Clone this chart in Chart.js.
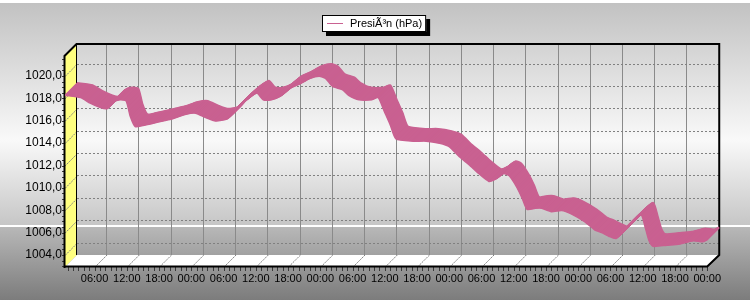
<!DOCTYPE html>
<html>
<head>
<meta charset="utf-8">
<script src="https://cdn.jsdelivr.net/npm/chart.js@4/dist/chart.umd.min.js"></script>
<style>
html,body{margin:0;padding:0;background:#fff;}
#wrap{width:750px;height:300px;}
</style>
</head>
<body>
<div id="wrap"><canvas id="c" width="750" height="300"></canvas></div>
<script>
// ---------- data ----------
const seriesLabel = 'PresiÃ³n (hPa)';
// hours since midnight of the first day
const hours = [0.5,3.4,5.2,7.1,8.3,9.5,10.7,11.9,12.7,13.6,15.0,16.9,18.7,20.5,23.0,24.8,26.7,28.5,30.7,32.5,
  34.3,36.2,37.4,38.9,40.5,42.3,44.1,46.0,47.8,49.0,50.3,52.1,53.3,55.2,57.6,58.8,60.0,61.1,62.1,65.3,
  67.7,70.2,72.0,73.9,75.7,77.5,79.4,80.6,82.1,83.2,84.7,85.6,86.5,88.0,89.2,91.0,92.9,94.7,97.2,99.0,
  100.5,101.7,103.0,105.1,107.7,108.6,109.2,109.9,112.5,114.9,117.4,119.2,120.0];
const pressure = [1018.3,1018.1,1017.6,1017.2,1017.1,1017.7,1017.9,1017.8,1016.4,1015.5,1015.6,1015.8,1016.0,1016.2,1016.6,1016.7,1016.3,1016.0,1016.2,1017.1,
  1017.9,1018.5,1017.9,1017.9,1018.2,1018.9,1019.3,1019.8,1020.0,1019.8,1019.1,1018.8,1018.3,1017.9,1017.9,1018.1,1016.8,1015.6,1014.4,1014.2,
  1014.2,1014.0,1013.7,1012.8,1012.1,1011.3,1010.6,1010.8,1011.3,1011.1,1010.0,1009.1,1008.1,1008.2,1008.2,1007.9,1008.0,1007.7,1007.0,1006.3,
  1006.0,1005.7,1005.5,1006.5,1007.6,1006.3,1005.3,1004.8,1004.9,1005.0,1005.3,1005.2,1005.4];
const xTickValues = [6,12,18,24,30,36,42,48,54,60,66,72,78,84,90,96,102,108,114,120];
const xTickLabels = ['06:00','12:00','18:00','00:00','06:00','12:00','18:00','00:00','06:00','12:00',
  '18:00','00:00','06:00','12:00','18:00','00:00','06:00','12:00','18:00','00:00'];
const yTickValues = [1004,1006,1008,1010,1012,1014,1016,1018,1020];

// ---------- styling constants ----------
const DEPTH = 12;
const PINK = 'rgb(201,97,145)';
const FONT = '"Liberation Sans", Arial, sans-serif';

const scene = {
  id: 'scene',
  beforeDraw(chart) {
    const ctx = chart.ctx, W = chart.width, H = chart.height;
    const a = chart.chartArea;
    ctx.save();
    ctx.fillStyle = '#ffffff';
    ctx.fillRect(0, 0, W, H);
    let g = ctx.createLinearGradient(0, 3, 0, 225);
    g.addColorStop(0, '#c2c2c2');
    g.addColorStop(0.62, '#f9f9f9');
    g.addColorStop(1, '#c6c6c6');
    ctx.fillStyle = g;
    ctx.fillRect(0, 3, W, 222);
    g = ctx.createLinearGradient(0, 227, 0, H);
    g.addColorStop(0, '#b8b8b8');
    g.addColorStop(1, '#7c7c7c');
    ctx.fillStyle = g;
    ctx.fillRect(0, 227, W, H - 227);

    // left wall
    ctx.fillStyle = '#ffff80';
    ctx.beginPath();
    ctx.moveTo(a.left - DEPTH, a.top + DEPTH);
    ctx.lineTo(a.left, a.top);
    ctx.lineTo(a.left, a.bottom);
    ctx.lineTo(a.left - DEPTH, a.bottom + DEPTH);
    ctx.closePath();
    ctx.fill();
    // floor
    ctx.fillStyle = '#ffffff';
    ctx.beginPath();
    ctx.moveTo(a.left - DEPTH, a.bottom + DEPTH);
    ctx.lineTo(a.left, a.bottom);
    ctx.lineTo(a.right, a.bottom);
    ctx.lineTo(a.right - DEPTH, a.bottom + DEPTH);
    ctx.closePath();
    ctx.fill();

    // slanted grid lines on wall and floor
    const xs = chart.scales.x, ys = chart.scales.y;
    ctx.strokeStyle = '#808080';
    ctx.lineWidth = 1;
    ctx.setLineDash([2, 1]);
    ctx.beginPath();
    ys.ticks.forEach(t => {
      const p = ys.getPixelForValue(t.value);
      ctx.moveTo(a.left, p + 0.5);
      ctx.lineTo(a.left - DEPTH, p + DEPTH + 0.5);
    });
    xs.ticks.forEach(t => {
      const p = xs.getPixelForValue(t.value);
      ctx.moveTo(p + 0.5, a.bottom);
      ctx.lineTo(p - DEPTH + 0.5, a.bottom + DEPTH);
    });
    ctx.stroke();
    ctx.restore();
  },
  beforeDatasetsDraw(chart) {
    const ctx = chart.ctx, a = chart.chartArea;
    const xs = chart.scales.x, ys = chart.scales.y;
    ctx.save();
    // tick marks on the front edges
    ctx.strokeStyle = '#3a3a3a';
    ctx.lineWidth = 1;
    ctx.beginPath();
    for (let v = Math.ceil(ys.min * 2) / 2; v <= ys.max; v += 0.5) {
      const p = Math.round(ys.getPixelForValue(v) + DEPTH) + 0.5;
      if (p > a.bottom + DEPTH || p < a.top + DEPTH) continue;
      ctx.moveTo(a.left - DEPTH - 3, p);
      ctx.lineTo(a.left - DEPTH, p);
    }
    for (let h = Math.ceil(xs.min); h <= xs.max; h += 1) {
      const p = Math.round(xs.getPixelForValue(h) - DEPTH) + 0.5;
      ctx.moveTo(p, a.bottom + DEPTH);
      ctx.lineTo(p, a.bottom + DEPTH + 4);
    }
    ctx.stroke();

    // black edges
    ctx.strokeStyle = '#000';
    ctx.lineWidth = 2;
    ctx.beginPath();
    ctx.moveTo(a.left - DEPTH - 0.5, a.bottom + DEPTH + 1);
    ctx.lineTo(a.left - DEPTH - 0.5, a.top + DEPTH);
    ctx.lineTo(a.left - 0.5, a.top);
    ctx.lineTo(a.right, a.top);
    ctx.lineTo(a.right, a.bottom);
    ctx.lineTo(a.right - DEPTH, a.bottom + DEPTH - 0.5);
    ctx.lineTo(a.left - DEPTH - 1.5, a.bottom + DEPTH - 0.5);
    ctx.stroke();
    ctx.lineWidth = 1;
    ctx.beginPath();
    ctx.moveTo(a.left - 0.5, a.top);
    ctx.lineTo(a.left - 0.5, a.bottom);
    ctx.stroke();
    ctx.restore();
  },
  beforeDatasetDraw(chart, args) {
    const ctx = chart.ctx, line = args.meta.dataset;
    for (let d = DEPTH; d > 0; d -= 0.5) {
      ctx.save();
      ctx.translate(-d, d);
      line.draw(ctx, chart.chartArea);
      ctx.restore();
    }
  },
  afterDraw(chart) {
    const ctx = chart.ctx;
    const label = chart.data.datasets[0].label;
    ctx.save();
    ctx.font = '11px ' + FONT;
    const tw = ctx.measureText(label).width;
    const w = 28 + tw + 4, h = 17;
    const left = Math.round(374 - w / 2), top = 15;
    ctx.fillStyle = '#000';
    ctx.fillRect(left + 4, top + 4, w, h);
    ctx.fillStyle = '#fff';
    ctx.fillRect(left, top, w, h);
    ctx.strokeStyle = '#000';
    ctx.lineWidth = 1;
    ctx.strokeRect(left + 0.5, top + 0.5, w - 1, h - 1);
    ctx.strokeStyle = chart.data.datasets[0].borderColor;
    ctx.beginPath();
    ctx.moveTo(left + 5, top + 8.5);
    ctx.lineTo(left + 21, top + 8.5);
    ctx.stroke();
    ctx.fillStyle = '#000';
    ctx.textBaseline = 'alphabetic';
    ctx.fillText(label, left + 28, top + 12);
    ctx.restore();
  }
};

new Chart(document.getElementById('c'), {
  type: 'line',
  data: {
    datasets: [{
      label: seriesLabel,
      data: hours.map((h, i) => ({x: h, y: pressure[i]})),
      borderColor: PINK,
      backgroundColor: PINK,
      borderWidth: 2,
      pointRadius: 0,
      tension: 0.2,
      clip: false,
      fill: false
    }]
  },
  options: {
    responsive: false,
    maintainAspectRatio: false,
    animation: false,
    devicePixelRatio: 1,
    layout: {padding: {top: 44, right: 23, left: 0, bottom: 0}},
    plugins: {legend: {display: false}, tooltip: {enabled: false}},
    scales: {
      x: {
        type: 'linear',
        min: 0.5,
        max: 120,
        afterBuildTicks: s => { s.ticks = xTickValues.map(v => ({value: v})); },
        afterFit: s => { s.height = 45; },
        grid: {color: '#8a8a8a', lineWidth: 1, drawTicks: false},
        border: {display: false},
        ticks: {
          autoSkip: false, maxRotation: 0, minRotation: 0,
          padding: 17, labelOffset: -DEPTH, color: '#000',
          font: {family: FONT, size: 11},
          callback: (v, i) => xTickLabels[i]
        }
      },
      y: {
        min: 1002.93,
        max: 1021.79,
        afterBuildTicks: s => { s.ticks = yTickValues.map(v => ({value: v})); },
        afterFit: s => { s.width = 77; },
        grid: {color: '#808080', lineWidth: 1, drawTicks: false},
        border: {display: false, dash: [2, 2]},
        ticks: {
          padding: 15, labelOffset: DEPTH, color: '#000',
          font: {family: FONT, size: 12},
          callback: v => v.toFixed(1).replace('.', ',')
        }
      }
    }
  },
  plugins: [scene]
});
</script>
</body>
</html>
